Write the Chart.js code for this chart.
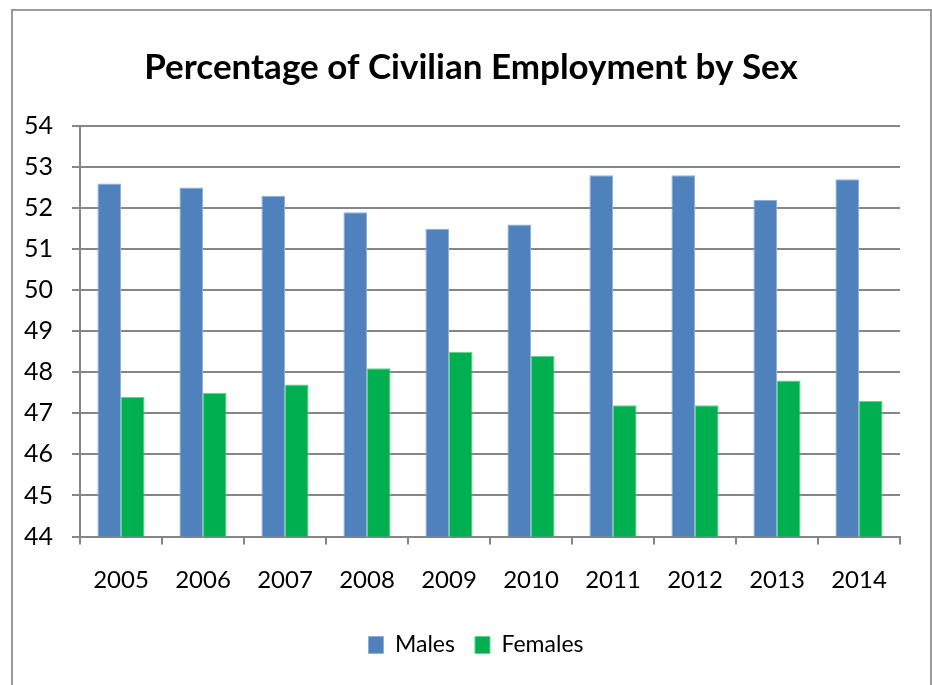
<!DOCTYPE html>
<html>
<head>
<meta charset="utf-8">
<script src="https://cdn.jsdelivr.net/npm/chart.js@4.4.1/dist/chart.umd.min.js"></script>
<style>
    body { margin: 0; background: #fff; }
    #wrap { position: relative; width: 932px; height: 685px; overflow: hidden; }
    #frame { position: absolute; left: 11px; top: 9px; width: 917px; height: 700px; border: 2px solid #9a9a9a; }
    canvas { position: absolute; left: 0; top: 0; }
</style>
</head>
<body>
<div id="wrap">
    <div id="frame"></div>
    <canvas id="empChart" width="932" height="685"></canvas>
</div>
<script>
// values
const years = ['2005', '2006', '2007', '2008', '2009', '2010', '2011', '2012', '2013', '2014'];
const males = [52.6, 52.5, 52.3, 51.9, 51.5, 51.6, 52.8, 52.8, 52.2, 52.7];
const females = [47.4, 47.5, 47.7, 48.1, 48.5, 48.4, 47.2, 47.2, 47.8, 47.3];

const fontFamily = 'Lato, "Open Sans", sans-serif';
const gridGray = '#868686';

// title and legend sit a bit right of the canvas centre in the original
const shiftBlocks = {
    id: 'shiftBlocks',
    afterLayout(chart) {
        if (chart.legend) {
            chart.legend.left += 26;
            chart.legend.right += 26;
        }
        if (chart.titleBlock) {
            chart.titleBlock.left += 21;
            chart.titleBlock.right += 21;
        }
    }
};

const ctx = document.getElementById('empChart').getContext('2d');
new Chart(ctx, {
    type: 'bar',
    data: {
        labels: years,
        datasets: [
            {
                label: 'Males',
                data: males,
                backgroundColor: '#4F81BD',
                borderColor: '#8fb0d8',
                borderWidth: 1,
                categoryPercentage: 0.575,
                barPercentage: 1
            },
            {
                label: 'Females',
                data: females,
                backgroundColor: '#00B050',
                borderColor: '#66d08f',
                borderWidth: 1,
                categoryPercentage: 0.575,
                barPercentage: 1
            }
        ]
    },
    plugins: [shiftBlocks],
    options: {
        responsive: false,
        animation: false,
        layout: { padding: { left: 0, right: 32, top: 0, bottom: 18.5 } },
        plugins: {
            title: {
                display: true,
                text: 'Percentage of Civilian Employment by Sex',
                color: '#000',
                font: { family: fontFamily, size: 35, weight: 'bold' },
                padding: { top: 47, bottom: 37 }
            },
            legend: {
                position: 'bottom',
                labels: {
                    color: '#000',
                    font: { family: fontFamily, size: 23 },
                    boxWidth: 15,
                    boxHeight: 17,
                    padding: 20
                }
            },
            tooltip: { enabled: false }
        },
        scales: {
            x: {
                grid: {
                    drawOnChartArea: false,
                    color: gridGray,
                    lineWidth: 2,
                    tickLength: 8
                },
                border: { color: gridGray, width: 2 },
                ticks: {
                    color: '#000',
                    font: { family: fontFamily, size: 24 },
                    padding: 21,
                    maxRotation: 0
                },
                afterFit: function (scale) {
                    scale.height = 77;
                }
            },
            y: {
                min: 44,
                max: 54,
                grid: {
                    color: gridGray,
                    lineWidth: 2,
                    tickLength: 8
                },
                border: { color: gridGray, width: 2 },
                ticks: {
                    stepSize: 1,
                    color: '#000',
                    font: { family: fontFamily, size: 25 },
                    padding: 19
                },
                afterFit: function (scale) {
                    scale.width = 80;
                }
            }
        }
    }
});
</script>
</body>
</html>
